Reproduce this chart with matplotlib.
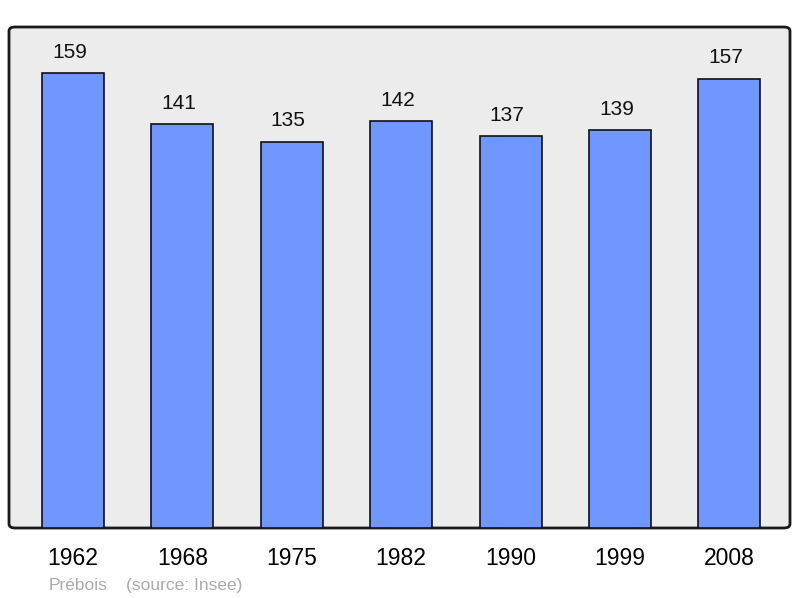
import matplotlib.pyplot as plt
from matplotlib.patches import FancyBboxPatch

years = ['1962', '1968', '1975', '1982', '1990', '1999', '2008']
population = [159, 141, 135, 142, 137, 139, 157]

plt.rcParams['font.family'] = ['Liberation Sans', 'DejaVu Sans']

fig = plt.figure(figsize=(8, 5.98), dpi=100)
ax = fig.add_axes([9/800, 1 - 528/598, 781/800, 501/598])
ax.patch.set_visible(False)

# rounded frame behind the plot
frame = FancyBboxPatch((0, 0), 1, 1, boxstyle='round,pad=0,rounding_size=0.008',
                       transform=ax.transAxes, facecolor='#ececec',
                       edgecolor='#1a1a1a', linewidth=2, zorder=0, clip_on=False)
ax.add_patch(frame)

x = list(range(len(years)))
ax.bar(x, population, width=0.567, color='#7097ff', edgecolor='#111111',
       linewidth=1.2, zorder=2)

for xi, v in zip(x, population):
    ax.annotate(str(v), (xi, v), xytext=(-2.5, 11), textcoords='offset points',
                ha='center', va='baseline', fontsize=15, color='#111111')

ax.set_xlim(-0.585, 6.555)
ax.set_ylim(0, 175)
ax.set_xticks(x, years, fontsize=16.5)
ax.tick_params(axis='x', length=0, pad=14)
ax.set_yticks([])
for s in ax.spines.values():
    s.set_visible(False)

fig.text(49/800, 1 - 590/598, 'Prébois', fontsize=12.5, color='#aaaaaa')
fig.text(126/800, 1 - 590/598, '(source: Insee)', fontsize=12.5, color='#aaaaaa')

fig.savefig('out.png', dpi=100)
